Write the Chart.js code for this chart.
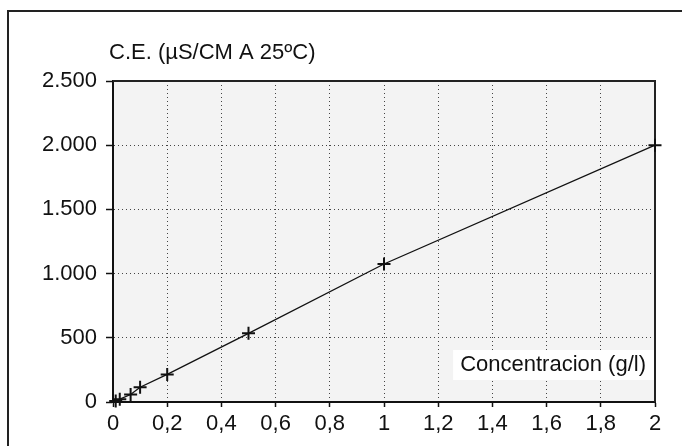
<!DOCTYPE html>
<html>
<head>
<meta charset="utf-8">
<script src="https://cdn.jsdelivr.net/npm/chart.js@4/dist/chart.umd.min.js"></script>
<style>
  html, body { margin: 0; padding: 0; background: #fff; }
  #wrap { width: 682px; height: 446px; position: relative; }
</style>
</head>
<body>
<div id="wrap"><canvas id="ceChart"></canvas></div>
<script>
  // Conductividad vs concentracion
  const concentracion = [0.01, 0.025, 0.065, 0.1, 0.2, 0.5, 1, 2];
  const conductividad = [8, 22, 58, 115, 215, 535, 1075, 2000];
  const xTickLabels = ['0', '0,2', '0,4', '0,6', '0,8', '1', '1,2', '1,4', '1,6', '1,8', '2'];
  const yTickLabels = ['0', '500', '1.000', '1.500', '2.000', '2.500'];
  const yTitle = 'C.E. (\u00B5S/CM A 25\u00BAC)';
  const xTitle = 'Concentracion (g/l)';

  const FONT = 'Liberation Sans, Arial, Helvetica, sans-serif';

  // frame of the page, plot background, titles
  const decorPlugin = {
    id: 'decor',
    beforeDraw(chart) {
      const ctx = chart.ctx;
      const a = chart.chartArea;
      ctx.save();
      // outer frame (left + top only, as in the scan)
      ctx.strokeStyle = '#222';
      ctx.lineWidth = 2;
      ctx.beginPath();
      ctx.moveTo(8, 446);
      ctx.lineTo(8, 11);
      ctx.lineTo(682, 11);
      ctx.stroke();
      // grey plot background
      ctx.fillStyle = '#f3f3f3';
      ctx.fillRect(a.left, a.top, a.right - a.left, a.bottom - a.top);
      ctx.restore();
    },
    beforeDatasetsDraw(chart) {
      const ctx = chart.ctx;
      const a = chart.chartArea;
      ctx.save();
      ctx.font = '22px ' + FONT;
      ctx.fillStyle = '#111';
      // x axis name sits inside the plot, on a white patch
      const w = ctx.measureText(xTitle).width;
      ctx.fillStyle = '#fff';
      ctx.fillRect(a.right - w - 16, a.bottom - 52, w + 16, 30);
      ctx.fillStyle = '#111';
      ctx.textAlign = 'right';
      ctx.textBaseline = 'middle';
      ctx.fillText(xTitle, a.right - 9, a.bottom - 37);
      // y axis name above the plot
      ctx.textAlign = 'left';
      ctx.fillText(yTitle, a.left - 4, a.top - 28);
      // top and right frame of the plot
      ctx.strokeStyle = '#222';
      ctx.lineWidth = 2;
      ctx.beginPath();
      ctx.moveTo(a.left, a.top);
      ctx.lineTo(a.right, a.top);
      ctx.lineTo(a.right, a.bottom);
      ctx.stroke();
      ctx.restore();
    }
  };

  const gridColor = (max) => (c) => {
    if (!c.tick) return '#444';
    return (c.tick.value === 0 || Math.abs(c.tick.value - max) < 1e-9) ? 'rgba(0,0,0,0)' : '#444';
  };

  new Chart(document.getElementById('ceChart'), {
    type: 'scatter',
    data: {
      datasets: [{
        data: concentracion.map((x, i) => ({ x: x, y: conductividad[i] })),
        showLine: true,
        tension: 0,
        clip: false,
        borderColor: '#111',
        borderWidth: 1.3,
        pointStyle: 'cross',
        pointRadius: 6.5,
        pointBorderWidth: 2,
        pointBorderColor: '#111',
        pointBackgroundColor: '#111'
      }]
    },
    options: {
      responsive: true,
      maintainAspectRatio: false,
      animation: false,
      layout: { padding: { left: 20, right: 27, top: 81, bottom: 0 } },
      scales: {
        x: {
          type: 'linear',
          min: 0,
          max: 2,
          afterFit: (s) => { s.height = 44; },
          ticks: {
            stepSize: 0.2,
            padding: 4,
            color: '#111',
            font: { family: FONT, size: 22 },
            maxRotation: 0,
            autoSkip: false,
            callback: (v) => xTickLabels[Math.round(v / 0.2)]
          },
          grid: {
            color: gridColor(2),
            lineWidth: 1,
            tickLength: 5,
            tickColor: '#111',
            tickWidth: 1.5
          },
          border: { color: '#111', width: 2, dash: [1, 3] }
        },
        y: {
          type: 'linear',
          min: 0,
          max: 2500,
          afterFit: (s) => { s.width = 93; },
          ticks: {
            stepSize: 500,
            padding: 9,
            color: '#111',
            font: { family: FONT, size: 22 },
            callback: (v) => yTickLabels[Math.round(v / 500)]
          },
          grid: {
            color: gridColor(2500),
            lineWidth: 1,
            tickLength: 7,
            tickColor: '#111',
            tickWidth: 1.5
          },
          border: { color: '#111', width: 2, dash: [1, 3] }
        }
      },
      plugins: {
        legend: { display: false },
        tooltip: { enabled: false }
      }
    },
    plugins: [decorPlugin]
  });
</script>
</body>
</html>
